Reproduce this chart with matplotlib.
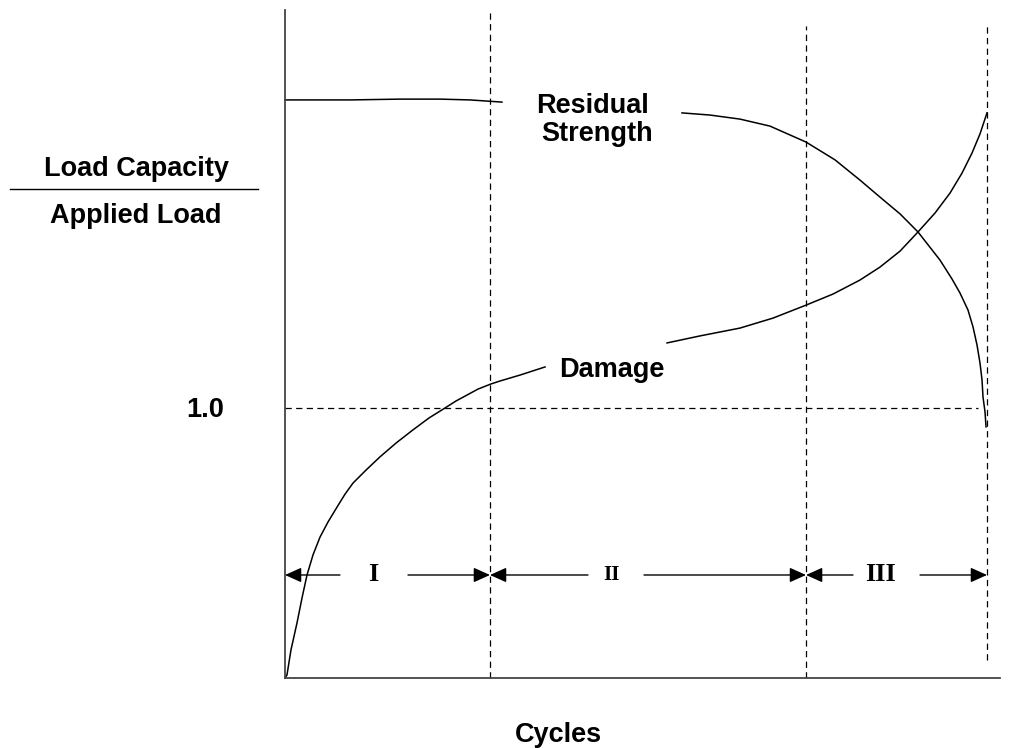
import matplotlib
matplotlib.use('Agg')
import matplotlib.pyplot as plt

# fraction of life (x) vs load ratio (y)
damage_x1 = [0, 0.0028, 0.0085, 0.0171, 0.0242, 0.0313, 0.0399, 0.0499, 0.0613, 0.0741, 0.0855,
             0.0969, 0.1154, 0.1353, 0.1581, 0.1823, 0.2051, 0.2279, 0.2436, 0.2593, 0.2749,
             0.2934, 0.3063, 0.3348, 0.3704]
damage_y1 = [0, 0.011, 0.104, 0.204, 0.296, 0.381, 0.456, 0.522, 0.578, 0.633, 0.681,
             0.722, 0.770, 0.819, 0.870, 0.919, 0.963, 1.0, 1.026, 1.048, 1.070,
             1.089, 1.100, 1.122, 1.152]
damage_x2 = [0.5442, 0.5912, 0.6481, 0.6952, 0.7422, 0.7806, 0.8191, 0.8476, 0.8761, 0.9017,
             0.9259, 0.9473, 0.9644, 0.9786, 0.9900, 1.0]
damage_y2 = [1.241, 1.267, 1.296, 1.333, 1.381, 1.422, 1.474, 1.522, 1.581, 1.652,
             1.722, 1.796, 1.870, 1.944, 2.015, 2.093]

strength_x1 = [0, 0.0926, 0.1638, 0.2208, 0.2635, 0.3091]
strength_y1 = [2.141, 2.141, 2.144, 2.144, 2.141, 2.133]
strength_x2 = [0.5655, 0.6054, 0.6481, 0.6909, 0.7422, 0.7835, 0.8191, 0.8476, 0.8761, 0.9017,
               0.9330, 0.9501, 0.9615, 0.9729, 0.9801, 0.9858, 0.9900, 0.9929, 0.9943, 0.9972,
               0.9986]
strength_y2 = [2.093, 2.085, 2.070, 2.044, 1.985, 1.919, 1.844, 1.781, 1.719, 1.652,
               1.548, 1.478, 1.426, 1.363, 1.300, 1.233, 1.167, 1.104, 1.041, 0.985,
               0.930]

stage_bounds = [0, 0.292, 0.7422, 1.0]
stage_labels = ['I', 'II', 'III']
label_x = [0.1254, 0.4658, 0.849]
tail_left = [0.0783, 0.4316, 0.8091]
tail_right = [0.1752, 0.5114, 0.9046]
arrow_y = 0.3815

plt.rcParams['font.family'] = ['Liberation Sans', 'DejaVu Sans']

W, H = 1028, 748
fig = plt.figure(figsize=(W / 100, H / 100), dpi=100)
ax = fig.add_axes([285 / W, 70 / H, 715 / W, 668 / H])
ax.set_xlim(0, 715 / 702)
ax.set_ylim(0, 668 / 270)
for s in ['top', 'right']:
    ax.spines[s].set_visible(False)
for s in ['left', 'bottom']:
    ax.spines[s].set_color('#444444')
    ax.spines[s].set_linewidth(1.3)
ax.set_xticks([])
ax.set_yticks([])

lw = 1.1
for xs, ys in [(damage_x1, damage_y1), (damage_x2, damage_y2),
               (strength_x1, strength_y1), (strength_x2, strength_y2)]:
    ax.plot(xs, ys, color='black', lw=lw, clip_on=False, solid_joinstyle='round')

dash = (0, (5, 3.5))
ax.plot([0, 0.987], [1.0, 1.0], color='black', lw=0.9, linestyle=dash)
ax.plot([stage_bounds[1]] * 2, [0, 668 / 270], color='black', lw=0.9, linestyle=dash, clip_on=False)
ax.plot([stage_bounds[2]] * 2, [0, 2.415], color='black', lw=0.9, linestyle=dash)
ax.plot([stage_bounds[3]] * 2, [0.067, 2.415], color='black', lw=0.9, linestyle=dash)

aprops = dict(arrowstyle='-|>,head_length=1.0,head_width=0.45', color='black',
              lw=1.0, shrinkA=0, shrinkB=0)
for i in range(3):
    ax.annotate('', xy=(stage_bounds[i], arrow_y), xytext=(tail_left[i], arrow_y), arrowprops=aprops)
    ax.annotate('', xy=(stage_bounds[i + 1], arrow_y), xytext=(tail_right[i], arrow_y), arrowprops=aprops)
    ax.text(label_x[i], arrow_y, stage_labels[i], ha='center', va='center',
            family='Liberation Serif', weight='bold', fontsize=15 if i == 1 else 19)


def ftext(x, y, s, **kw):
    fig.text(x / W, 1 - y / H, s, ha='center', va='baseline', weight='bold', fontsize=19.5, **kw)


ftext(136, 176, 'Load Capacity')
ftext(136, 223, 'Applied Load')
fig.add_artist(plt.Line2D([10 / W, 258 / W], [1 - 189 / H] * 2, color='black', lw=1.0))
ftext(205, 417, '1.0')
ftext(593, 113, 'Residual')
ftext(597, 141, 'Strength')
ftext(612, 377, 'Damage')
ftext(558, 742, 'Cycles')

fig.savefig('out.png', dpi=100)
